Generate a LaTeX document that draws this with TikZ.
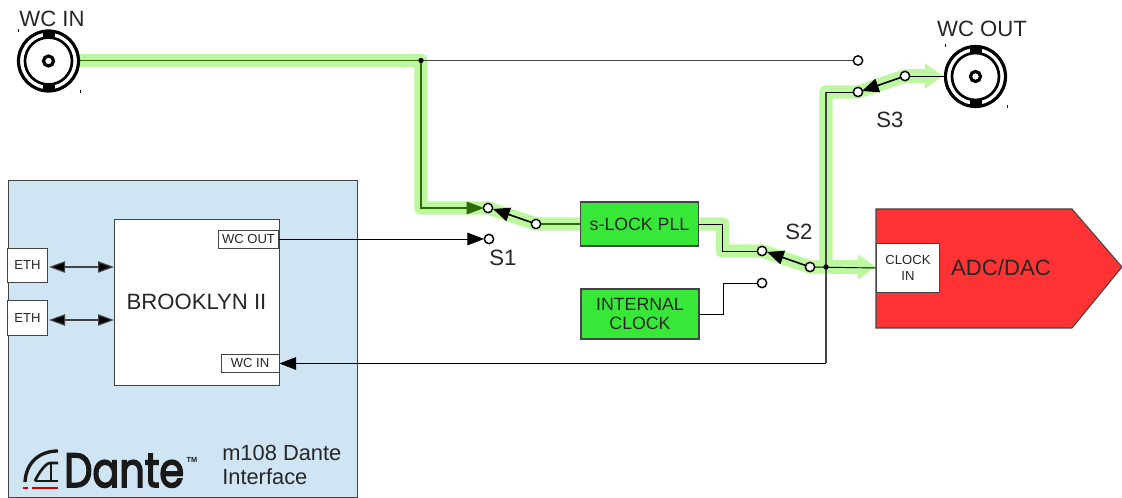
\documentclass[tikz,border=0pt]{standalone}
\usepackage{fontspec}
\usepackage{graphicx}
\setmainfont{Liberation Sans}
\newfontfamily\dantefont[FakeBold=3.5]{Poppins}
\usetikzlibrary{arrows.meta,calc}
\definecolor{band}{HTML}{BDF8A0}
\definecolor{panel}{HTML}{CFE5F4}
\definecolor{boxgreen}{HTML}{38E838}
\definecolor{boxred}{HTML}{FF3333}
\definecolor{darkg}{HTML}{2E6B06}
\definecolor{edgegray}{HTML}{444444}
\tikzset{
 x=0.75pt,y=-0.75pt,
 every node/.style={font=\fontsize{13.5pt}{16pt}\selectfont,text=black!85,inner sep=0pt},
 bandline/.style={band,line width=10pt,line join=round,line cap=butt},
 bandarrow/.style={band,line width=10pt,-{Triangle[length=13.5pt,width=18pt,fill=band]}},
 wire/.style={draw=black,line width=0.7pt},
 graywire/.style={draw=edgegray,line width=0.8pt},
 gwire/.style={draw=darkg,line width=0.9pt},
 tip/.style={-{Triangle[length=12.5pt,width=9.5pt,fill=black]}},
 armtip/.style={-{Triangle[length=12.5pt,width=10.5pt,fill=black]}},
 biarrow/.style={{Triangle[length=12pt,width=8.5pt,fill=black]}-{Triangle[length=12pt,width=8.5pt,fill=black]},draw=edgegray,line width=0.9pt},
 term/.style={circle,draw=black,line width=1.1pt,fill=white,minimum size=7pt},
 junction/.style={circle,fill=black,minimum size=4pt},
 greenbox/.style={draw=edgegray,fill=boxgreen,line width=0.8pt,align=center,font=\fontsize{13.3pt}{14.5pt}\selectfont},
 whitebox/.style={draw=edgegray,fill=white,line width=0.7pt,align=center},
 port/.style={whitebox,font=\fontsize{9.8pt}{11.5pt}\selectfont},
 lbl/.style={font=\fontsize{16.6pt}{19pt}\selectfont},
}
\newcommand{\bnc}[2]{%
 \node[#2,circle,draw=black,line width=2.4pt,fill=white,minimum size=45pt] at (#1) {};
 \draw[black,line width=2pt] (#1) circle [radius=23.5];
 \fill[black] ($(#1)+(-6,-29)$) rectangle ($(#1)+(6,-23)$);
 \fill[black] ($(#1)+(-6,29)$) rectangle ($(#1)+(6,23)$);
 \draw[black,line width=2.4pt] (#1) circle [radius=5];
 \fill[black] ($(#1)+(-31,-32)$) rectangle ($(#1)+(-30,-29)$);
 \fill[black] ($(#1)+(31,29)$) rectangle ($(#1)+(32,32)$);
}
\begin{document}
\begin{tikzpicture}
\useasboundingbox (0,0) rectangle (1122,498);
% panel
\node[draw=edgegray,fill=panel,line width=0.9pt,minimum width=261.75pt,minimum height=237.7pt,anchor=north west] (panel) at (8,180) {};
% coordinates
\coordinate (wcinout) at (80,60.5);
\coordinate (topj) at (421,60.5);
\coordinate (s1c) at (421,208);
\coordinate (s2a) at (722.5,224);
\coordinate (s2b) at (722.5,251);
\coordinate (outc) at (826,92);
\coordinate (brk) at (826,363.5);
\coordinate (intc) at (723,283);
% boxes
\node[greenbox,minimum width=89pt,minimum height=33pt] (pll) at (639.5,224) {s-LOCK PLL};
\node[greenbox,minimum width=88.5pt,minimum height=37.5pt] (int) at (640,314) {INTERNAL\\CLOCK};
% bands
\draw[bandline] (wcinout) -- (topj) -- (s1c) -- (488,208) -- (536,224) -- (pll.west);
\draw[bandline] (pll.east) -- (s2a) -- (s2b) -- (762,251) -- (810,267) -- (835,267);
\draw[bandline] (826,267) -- (outc) -- (858,92) -- (905,76) -- (928,76);
\draw[bandarrow] (830,267) -- (876,267);
\draw[bandarrow] (905,76) -- (943,76);
% DUT
\path[draw=edgegray,fill=boxred,line width=0.8pt] (876,209) coordinate (r1) -- (1072,209) -- (1122,267) -- (1072,328) -- (876,328) -- cycle;
\node[lbl] (adc) at (1001,268) {ADC/DAC};
\node[port,minimum width=47pt,minimum height=37pt] (clk) at (908,268) {CLOCK\\IN};
% brooklyn
\node[whitebox,minimum width=123.5pt,minimum height=125pt] (bk) at (197,302.5) {};
\node[font=\fontsize{16.6pt}{19pt}\selectfont] (bktxt) at (196.5,302) {BROOKLYN II};
\node[port,minimum width=45pt,minimum height=13.5pt] (wcout) at (248.5,239) {WC OUT};
\node[port,minimum width=43.5pt,minimum height=13.5pt] (wcin) at (250,363.5) {WC IN};
\node[port,minimum width=30pt,minimum height=26pt] (eth1) at (27.5,265.5) {ETH};
\node[port,minimum width=30pt,minimum height=26.5pt] (eth2) at (27.5,318) {ETH};
\draw[biarrow] (49,267) -- (114,267);
\draw[biarrow] (49,320) -- (114,320);
% terminals coordinates
\coordinate (t1a) at (488,208);
\coordinate (t1b) at (489,239);
\coordinate (t1c) at (536,224);
\coordinate (t2a) at (762,251);
\coordinate (t2b) at (762,283);
\coordinate (t2c) at (810,267);
\coordinate (t3a) at (858,60.5);
\coordinate (t3b) at (858,92);
\coordinate (t3c) at (905,76);
% wires
\draw[gwire] (wcinout) -- (topj) -- (s1c) -- (470,208);
\draw[darkg,-{Triangle[length=13pt,width=9.5pt,fill=darkg]},line width=1pt] (460,208) -- (484,208);
\draw[graywire] (topj) -- (t3a);
\draw[gwire] (t1c) -- (pll.west);
\draw[wire] (pll.east) -- (s2a) -- (s2b) -- (t2a);
\draw[wire] (int.east) -| (intc) -- (t2b);
\draw[wire] (t2c) -- (clk.west);
\draw[graywire] (outc) -- (brk);
\draw[wire] (outc) -- (t3b);
\draw[wire,tip] (wcout.east) -- (484,239);
\draw[wire,tip] (brk) -- (wcin.east);
\draw[wire] (t3c) -- (945,76);
% switch arms
\draw[wire,line width=1.2pt,armtip] (t1c) -- (493,209);
\draw[wire,line width=1.2pt,armtip] (t2c) -- (767,252);
\draw[wire,line width=1.2pt,armtip] (t3c) -- (862,91);
% terminals
\node[term] (n1a) at (t1a) {};
\node[term] (n1b) at (t1b) {};
\node[term] (n1c) at (t1c) {};
\node[term] (n2a) at (t2a) {};
\node[term] (n2b) at (t2b) {};
\node[term] (n2c) at (t2c) {};
\node[term] (n3a) at (t3a) {};
\node[term] (n3b) at (t3b) {};
\node[term] (n3c) at (t3c) {};
\node[junction] (j1) at (topj) {};
\node[junction] (j2) at (826,267) {};
% BNC
\coordinate (bncin) at (48.5,61);
\coordinate (bncout) at (975.5,76.5);
\bnc{bncin}{}
\bnc{bncout}{}
% labels
\node[lbl] (l1) at (52,19) {WC IN};
\node[lbl] (l2) at (982,29) {WC OUT};
\node[lbl] (s1) at (503,258) {S1};
\node[lbl] (s2) at (799,232) {S2};
\node[lbl] (s3) at (890,120) {S3};
\node[lbl,align=left,anchor=west,font=\fontsize{16.4pt}{18pt}\selectfont] (m108) at (222,465) {m108 Dante\\Interface};
% logo
\draw[black!90,line width=2.5pt] (25,482) .. controls (26,463) and (39,451) .. (58,451);
\draw[black!90,line width=2pt] (35,481) .. controls (37,476) and (45,463) .. (50,463) -- (58,463);
\draw[black!90,line width=2pt] (35,481) -- (58,481);
\draw[black!90,line width=2pt] (51,463) -- (51,481);
\fill[red!80!black] (23,487) rectangle (28,489.5);
\fill[red!80!black] (32,487) rectangle (58,489.5);
\node[font=\fontsize{36pt}{38pt}\selectfont,text=black!90,anchor=base west] (dante) at (64,487) {\scalebox{0.83}[1]{\dantefont Dante}};
\node[font=\fontsize{5.5pt}{6pt}\selectfont\bfseries,text=black!90] (tm) at (192,460) {TM};
\end{tikzpicture}
\end{document}
